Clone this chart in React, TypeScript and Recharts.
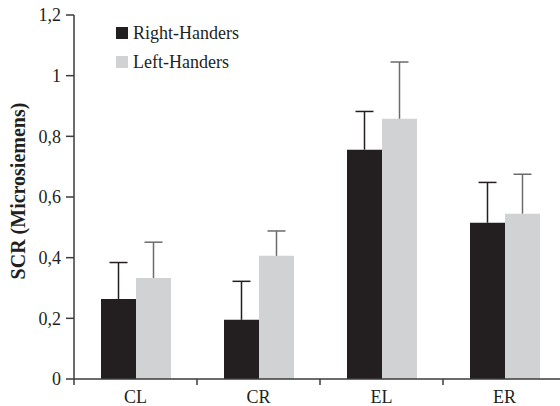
import { Bar, BarChart, ErrorBar, Legend, XAxis, YAxis } from "recharts";

const conditions = ["CL", "CR", "EL", "ER"];
const seriesNames = ["Right-Handers", "Left-Handers"];
const rightHanders = [0.264, 0.195, 0.756, 0.515];
const rightHandersErr = [0.12, 0.127, 0.126, 0.133];
const leftHanders = [0.333, 0.406, 0.858, 0.545];
const leftHandersErr = [0.118, 0.082, 0.187, 0.13];
const yTicks = [0, 0.2, 0.4, 0.6, 0.8, 1, 1.2];

const data = conditions.map((c, i) => ({
  name: c,
  right: rightHanders[i],
  rightErr: [0, rightHandersErr[i]],
  left: leftHanders[i],
  leftErr: [0, leftHandersErr[i]],
}));

const FONT = "'Liberation Serif', 'DejaVu Serif', serif";
const AXIS = "#3d3b3c";
const DARK = "#231f20";
const LIGHT = "#d1d2d4";
const TEXT = "#231f20";

// error bars only point upward: hide the lower cap line
const css = `.recharts-errorBar line:nth-of-type(3) { display: none; }`;

function CategoryTick(props: any) {
  const { x, y, payload } = props;
  const half = payload?.offset ?? 0;
  return (
    <g>
      <line x1={x - half} x2={x - half} y1={y - 6} y2={y} stroke={AXIS} strokeWidth={1.5} />
      <text x={x} y={y} dy={18} textAnchor="middle" fill={TEXT} fontSize={18} fontFamily={FONT}>
        {payload.value}
      </text>
    </g>
  );
}

function YLabel(props: any) {
  const vb = props.viewBox ?? {};
  const cx = (vb.x ?? 0) + 18;
  const cy = (vb.y ?? 0) + (vb.height ?? 0) / 2 - 6;
  return (
    <text
      x={cx}
      y={cy}
      transform={`rotate(-90, ${cx}, ${cy})`}
      textAnchor="middle"
      dominantBaseline="central"
      fontFamily={FONT}
      fontSize={20}
      fontWeight="bold"
      fill={TEXT}
    >
      SCR (Microsiemens)
    </text>
  );
}

function LegendContent(props: any) {
  const items = [...(props.payload ?? [])].sort(
    (a: any, b: any) => seriesNames.indexOf(a.value) - seriesNames.indexOf(b.value)
  );
  return (
    <div style={{ fontFamily: FONT, fontSize: 18, color: TEXT, lineHeight: "18px" }}>
      {items.map((it: any) => (
        <div key={it.value} style={{ display: "flex", alignItems: "center", height: 29 }}>
          <span style={{ display: "inline-block", width: 12, height: 12, background: it.color, marginRight: 5 }} />
          {it.value}
        </div>
      ))}
    </div>
  );
}

export default function App() {
  return (
    <div style={{ position: "absolute", left: 0, top: 0, width: 560, height: 406, overflow: "hidden", background: "#fff" }}>
      <style>{css}</style>
      <BarChart
        width={566}
        height={406}
        data={data}
        margin={{ top: 15, right: 0, bottom: 0, left: 0 }}
        barGap={0}
        barSize={35}
      >
        <XAxis
          dataKey="name"
          height={27}
          stroke={AXIS}
          strokeWidth={1.5}
          tickLine={false}
          tickSize={6}
          tickMargin={0}
          tick={<CategoryTick />}
        />
        <YAxis
          width={74}
          domain={[0, 1.2]}
          ticks={yTicks}
          stroke={AXIS}
          strokeWidth={1.5}
          tickSize={8}
          tickMargin={5}
          tick={{ fill: TEXT, fontSize: 18, fontFamily: FONT }}
          tickFormatter={(v) => String(v).replace(".", ",")}
          label={<YLabel />}
        />
        <Legend
          layout="vertical"
          align="center"
          verticalAlign="middle"
          content={<LegendContent />}
          wrapperStyle={{ top: 18, left: 116, width: 220, height: 60 }}
        />
        <Bar dataKey="right" name={seriesNames[0]} fill={DARK} isAnimationActive={false}>
          <ErrorBar dataKey="rightErr" width={9} stroke={DARK} strokeWidth={1.5} direction="y" />
        </Bar>
        <Bar dataKey="left" name={seriesNames[1]} fill={LIGHT} isAnimationActive={false}>
          <ErrorBar dataKey="leftErr" width={9} stroke="#6b6b6b" strokeWidth={1.5} direction="y" />
        </Bar>
      </BarChart>
    </div>
  );
}
